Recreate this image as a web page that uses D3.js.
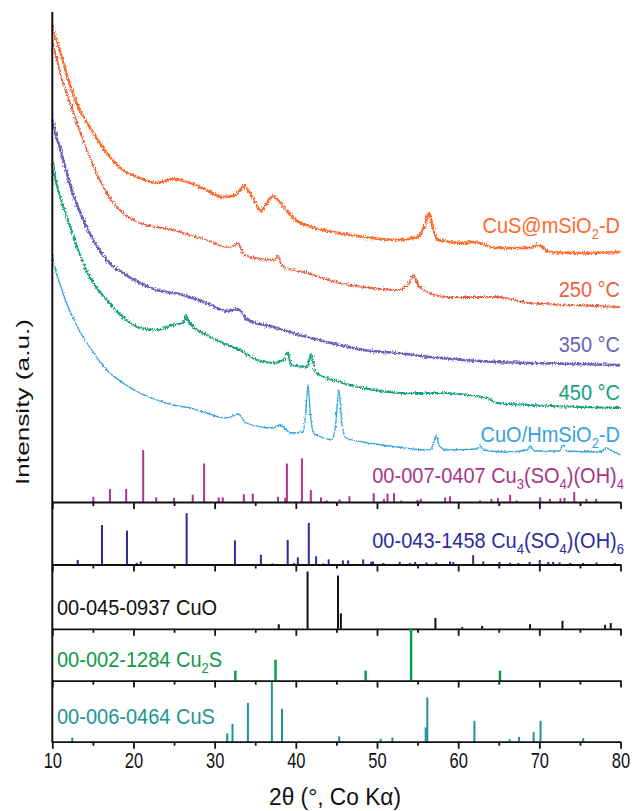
<!DOCTYPE html>
<html>
<head>
<meta charset="utf-8">
<script src="https://cdn.jsdelivr.net/npm/d3@7"></script>
<style>
  body { margin: 0; background: #fff; }
  svg { font-family: "Liberation Sans", Arial, sans-serif; }
</style>
</head>
<body>
<div id="chart"></div>
<script>
// measured patterns, [2theta, intensity a.u.]
const cusMsio2 = [[10, 477], [10.5, 462], [11, 450], [11.7, 430], [12.5, 409], [13.5, 390], [14.6, 375], [16.7, 349], [18.7, 332],
  [20.8, 324], [22.9, 319], [24.9, 323], [27, 319], [29, 312], [31, 305], [32.2, 306], [33, 310], [33.6, 316], [34.2, 311],
  [35, 300], [35.7, 291], [36.5, 300], [37.2, 306], [37.8, 302], [38.8, 292], [40, 282], [41.5, 276], [43.3, 272], [45.4, 269],
  [48.3, 265], [52.5, 262], [55, 265], [55.9, 277], [56.4, 289], [56.9, 274], [57.5, 262], [60.7, 259], [61.9, 260],
  [64.8, 254], [68.8, 254], [69.8, 257], [71.3, 250], [75, 249], [80, 250]];
const calc250 = [[10, 462], [10.5, 445], [11, 428], [11.7, 410], [12.5, 392], [13.5, 368], [14.6, 345], [16.7, 309], [18.7, 289],
  [20.8, 279], [24.9, 272], [27, 267], [29, 262], [31.5, 255], [32.3, 256], [32.9, 259], [33.5, 248], [35, 244], [37.3, 242],
  [37.8, 246], [38.3, 236], [41.4, 229], [45.4, 219], [48.3, 215], [52.5, 212], [53.9, 218], [54.5, 227], [55.2, 215],
  [58.6, 205], [62, 205], [64.8, 205], [68.8, 199], [74, 197], [80, 195]];
const calc350 = [[10, 382], [10.5, 366], [11, 352], [11.7, 332], [12.5, 309], [13.5, 288], [14.6, 269], [16.7, 242], [18.7, 229],
  [20.8, 219], [22.9, 212], [26.1, 207], [29, 199], [31.5, 191], [32.9, 193], [33.9, 183], [37.2, 175], [41.4, 165],
  [45.4, 157], [48.3, 152], [52.5, 149], [56.5, 145], [60.6, 142], [64.8, 140], [68.8, 139], [80, 137]];
const calc450 = [[10, 339], [10.4, 322], [10.9, 307], [11.8, 285], [13.5, 245], [14.6, 225], [16.7, 202], [18.7, 185],
  [20.8, 174], [22.9, 172], [24.9, 177], [26.1, 179], [26.5, 186], [26.9, 179], [29, 167], [31, 159], [33.1, 152],
  [35.2, 142], [37.2, 139], [38.6, 142], [39, 150], [39.4, 137], [41.4, 135], [41.9, 148], [42.4, 130], [45.4, 120],
  [48.3, 114], [53.3, 109], [57.4, 109], [63.6, 104], [64.8, 99], [68.8, 97], [80, 94]];
const cuoHmsio2 = [[10, 247], [10.4, 232], [10.9, 219], [11.6, 202], [12.5, 185], [13.5, 169], [14.6, 155], [16.7, 132], [18.7, 119],
  [20.8, 109], [22.9, 102], [24.9, 97], [27, 94], [29, 89], [31.5, 84], [32.9, 88], [33.9, 79], [37.2, 74], [38, 77],
  [39.4, 69], [40.9, 70], [41.2, 87], [41.5, 117], [41.8, 87], [42.2, 69], [43.5, 64], [44.4, 62], [44.9, 77], [45.3, 112],
  [45.7, 77], [46.2, 64], [48.3, 60], [52.5, 55], [56.5, 52], [57, 59], [57.3, 66], [57.7, 56], [58.6, 52], [62.3, 53],
  [62.7, 56], [63.1, 52], [66, 50], [68.5, 52], [68.9, 56], [69.4, 51], [72.5, 51], [72.9, 57], [73.4, 51], [77.5, 50],
  [78.2, 54], [79, 51], [80, 47]];

// reference cards, [2theta, relative intensity]
const pdf0070407 = [[15.05, 10], [17.1, 25], [19.1, 25], [21.2, 100], [22.8, 9], [25, 8], [27.3, 14], [28.7, 74], [30.5, 9],
  [31, 9], [33.6, 15], [34.7, 16], [37.8, 10], [38.7, 8], [38.9, 74], [40.75, 84], [41.85, 23], [43.1, 9], [43.8, 3],
  [45.4, 5], [46.6, 11], [49.6, 17], [50.85, 6], [51.3, 16], [52.1, 17], [53, 3], [55, 4], [55.4, 6], [58.4, 9], [59, 11],
  [62.7, 3], [64.1, 6], [64.9, 8], [66.4, 14], [67.2, 3], [70.1, 9], [71.3, 6], [72.6, 7], [73.1, 8], [74.3, 19],
  [75.8, 6], [77, 6]];
const pdf0431458 = [[13.13, 9], [16.12, 77], [19.2, 66], [20.4, 3], [20.9, 6], [26.55, 100], [32.5, 47], [35.7, 19], [37.1, 2],
  [39, 48], [39.8, 3], [40.25, 14], [41.6, 81], [42.5, 16], [43.4, 2], [44.05, 10], [45.8, 8], [46.45, 8], [48.3, 10],
  [49.3, 5], [49.5, 6], [50.8, 3], [52.8, 5], [54.05, 3], [54.7, 5], [56.1, 4], [57.3, 4], [59, 6], [59.4, 5], [61.85, 18],
  [63.1, 6], [65.1, 5], [66.4, 3], [67.4, 3], [68.8, 5], [70.05, 9], [71.1, 5], [71.7, 5], [72.5, 4], [73.8, 3], [75.4, 3],
  [77.05, 4], [79.3, 3]];
const pdf0450937 = [[37.9, 8], [41.45, 100], [45.2, 93], [45.55, 27], [57.2, 19], [60.5, 3], [62.95, 5], [68.85, 8],
  [72.85, 14], [78.1, 7], [78.8, 10]];
const pdf0021284 = [[32.55, 19], [37.5, 40], [48.6, 19], [54.2, 100], [65.15, 19]];
const pdf0060464 = [[12.46, 7], [31.55, 14], [32.2, 30], [34.1, 65], [37.05, 100], [38.3, 55], [45.35, 9], [50.45, 5],
  [51.9, 7], [56, 24], [56.2, 74], [62, 35], [66.35, 4], [67.5, 8], [69.3, 16], [70.15, 35], [75.4, 6]];

const majorTicks = [10, 20, 30, 40, 50, 60, 70, 80];
const minorTicks = [15, 25, 35, 45, 55, 65, 75];

const width = 632;
const height = 811;
const left = 52.3, right = 620.5;

const svg = d3.select('#chart')
  .append('svg')
  .attr('width', width)
  .attr('height', height);

// jitter so the scans look like raw counts
const defs = svg.append('defs');
const addNoise = (id, amount) => {
  const f = defs.append('filter')
    .attr('id', id)
    .attr('filterUnits', 'userSpaceOnUse')
    .attr('x', 0).attr('y', 0).attr('width', width).attr('height', height);
  f.append('feTurbulence')
    .attr('type', 'fractalNoise')
    .attr('baseFrequency', '0.9 0.5')
    .attr('numOctaves', 1)
    .attr('seed', 3)
    .attr('result', 't');
  f.append('feDisplacementMap')
    .attr('in', 'SourceGraphic')
    .attr('in2', 't')
    .attr('scale', amount)
    .attr('xChannelSelector', 'R')
    .attr('yChannelSelector', 'G');
};
addNoise('noisy', 5.5);
addNoise('noisyLight', 3);

const x = d3.scaleLinear().domain([10, 80]).range([left, right]);
const y = d3.scaleLinear().domain([0, 490]).range([502, 12]);

const line = d3.line()
  .x(d => x(d[0]))
  .y(d => y(d[1]))
  .curve(d3.curveMonotoneX);

const curves = [
  { data: cuoHmsio2, color: '#34a3dc', w: 1.3, f: 'noisyLight' },
  { data: calc450, color: '#14a07c', w: 2.0, f: 'noisy' },
  { data: calc350, color: '#6962b8', w: 2.6, f: 'noisy' },
  { data: calc250, color: '#e9613f', w: 1.8, f: 'noisy' },
  { data: cusMsio2, color: '#ff6a2c', w: 2.4, f: 'noisy' },
];

svg.append('g')
  .selectAll('path')
  .data(curves)
  .join('path')
  .attr('d', d => line(d.data))
  .attr('fill', 'none')
  .attr('stroke', d => d.color)
  .attr('stroke-width', d => d.w)
  .attr('stroke-linejoin', 'round')
  .attr('filter', d => `url(#${d.f})`);

// stick panels: baseline and full height of the tallest line
const panels = [
  { data: pdf0070407, base: 502, full: 52, color: '#b3348b', w: 2 },
  { data: pdf0431458, base: 564.5, full: 51.3, color: '#2b2b9e', w: 2 },
  { data: pdf0450937, base: 628.8, full: 57.3, color: '#111', w: 2 },
  { data: pdf0021284, base: 680.6, full: 52.3, color: '#0f9a45', w: 2.5 },
  { data: pdf0060464, base: 741.7, full: 59.7, color: '#1d9494', w: 2 },
];

panels.forEach((p, i) => {
  const ys = d3.scaleLinear().domain([0, 100]).range([p.base, p.base - p.full]);
  svg.append('g')
    .selectAll('line')
    .data(p.data)
    .join('line')
    .attr('x1', d => x(d[0]))
    .attr('x2', d => x(d[0]))
    .attr('y1', ys(0))
    .attr('y2', d => ys(d[1]))
    .attr('stroke', p.color)
    .attr('stroke-width', p.w);

  const last = i === panels.length - 1;
  const ax = svg.append('g')
    .attr('transform', `translate(0,${p.base})`)
    .call(d3.axisBottom(x).tickValues(majorTicks).tickSize(7).tickSizeOuter(0)
      .tickFormat(last ? d3.format('d') : ''));
  ax.append('g').call(d3.axisBottom(x).tickValues(minorTicks).tickSize(4).tickFormat(''))
    .select('.domain').remove();
  ax.selectAll('path, line').attr('stroke', '#111').attr('stroke-width', 1.8);
  ax.selectAll('text')
    .attr('font-size', 16.5)
    .attr('font-family', 'Liberation Sans, Arial')
    .attr('fill', '#111')
    .attr('y', 20)
    .attr('dy', 0)
    .attr('transform', 'scale(1,1.3)');
});

// left axis
svg.append('line')
  .attr('x1', left).attr('x2', left)
  .attr('y1', y(490)).attr('y2', 742.6)
  .attr('stroke', '#111').attr('stroke-width', 2);

// labels with subscripts
const label = (parts, xp, yp, color, anchor) => {
  const t = svg.append('text')
    .attr('transform', `translate(${xp},${yp}) scale(1,1.1)`)
    .attr('fill', color)
    .attr('font-size', 20)
    .attr('text-anchor', anchor || 'end');
  let down = false;
  parts.forEach(s => {
    const sub = s.startsWith('_');
    const ts = t.append('tspan').text(sub ? s.slice(1) : s);
    if (sub) { ts.attr('font-size', 13).attr('dy', 5); down = true; }
    else if (down) { ts.attr('dy', -5); down = false; }
  });
};

label(['CuS@mSiO', '_2', '-D'], 620, 233, '#ff6a2c');
label(['250 °C'], 620, 297, '#e9613f');
label(['350 °C'], 620, 352, '#6962b8');
label(['450 °C'], 620, 400, '#14a07c');
label(['CuO/HmSiO', '_2', '-D'], 620, 442, '#34a3dc');
label(['00-007-0407 Cu', '_3', '(SO', '_4', ')(OH)', '_4'], 624, 483, '#a8358a');
label(['00-043-1458 Cu', '_4', '(SO', '_4', ')(OH)', '_6'], 624, 548, '#2b2b9e');
label(['00-045-0937 CuO'], 57, 615, '#111', 'start');
label(['00-002-1284 Cu', '_2', 'S'], 57, 667, '#0f9a45', 'start');
label(['00-006-0464 CuS'], 57, 724, '#1d9494', 'start');

// axis titles
svg.append('text')
  .attr('transform', 'translate(29,402) rotate(-90)')
  .attr('text-anchor', 'middle')
  .attr('font-size', 19)
  .attr('textLength', 166)
  .attr('lengthAdjust', 'spacingAndGlyphs')
  .attr('fill', '#111')
  .text('Intensity (a.u.)');

svg.append('text')
  .attr('transform', 'translate(335,805) scale(1,1.15)')
  .attr('text-anchor', 'middle')
  .attr('font-size', 20)
  .attr('textLength', 132)
  .attr('lengthAdjust', 'spacingAndGlyphs')
  .attr('fill', '#111')
  .text('2θ (°, Co Kα)');
</script>
</body>
</html>
